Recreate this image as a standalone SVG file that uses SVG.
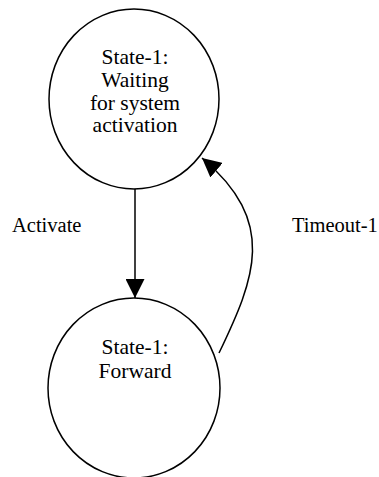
<svg xmlns="http://www.w3.org/2000/svg" width="379" height="477" viewBox="0 0 379 477">
<style>
.node{fill:#fff;stroke:#000;stroke-width:1.5}
.t{font-family:"Liberation Serif","Times New Roman",serif;font-size:21.5px;fill:#000;text-anchor:middle}
.l{font-family:"Liberation Serif","Times New Roman",serif;font-size:20.5px;fill:#000}
.edge{fill:none;stroke:#000;stroke-width:1.5}
</style>
<defs>
<marker id="ah" markerWidth="19" markerHeight="19" refX="19" refY="9.5" orient="auto" markerUnits="userSpaceOnUse">
<polygon points="0,0 19,9.5 0,19" fill="#000"/>
</marker>
</defs>
<rect width="379" height="477" fill="#fff"/>
<g id="state-waiting">
<ellipse class="node" cx="134" cy="99" rx="85" ry="90"/>
<text class="t" x="135" y="64">State-1:</text>
<text class="t" x="135" y="87">Waiting</text>
<text class="t" x="135" y="110">for system</text>
<text class="t" x="135" y="132">activation</text>
</g>
<g id="state-forward">
<ellipse class="node" cx="134" cy="388" rx="86" ry="90"/>
<text class="t" x="135" y="354">State-1:</text>
<text class="t" x="135" y="378">Forward</text>
</g>
<g id="connectors">
<path class="edge" d="M219,353 C255,278 278,222 202,158" marker-end="url(#ah)"/>
<path class="edge" d="M135,189 L135,298" marker-end="url(#ah)"/>
<text class="l" x="12" y="232">Activate</text>
<text class="l" x="292" y="232">Timeout-1</text>
</g>
</svg>
